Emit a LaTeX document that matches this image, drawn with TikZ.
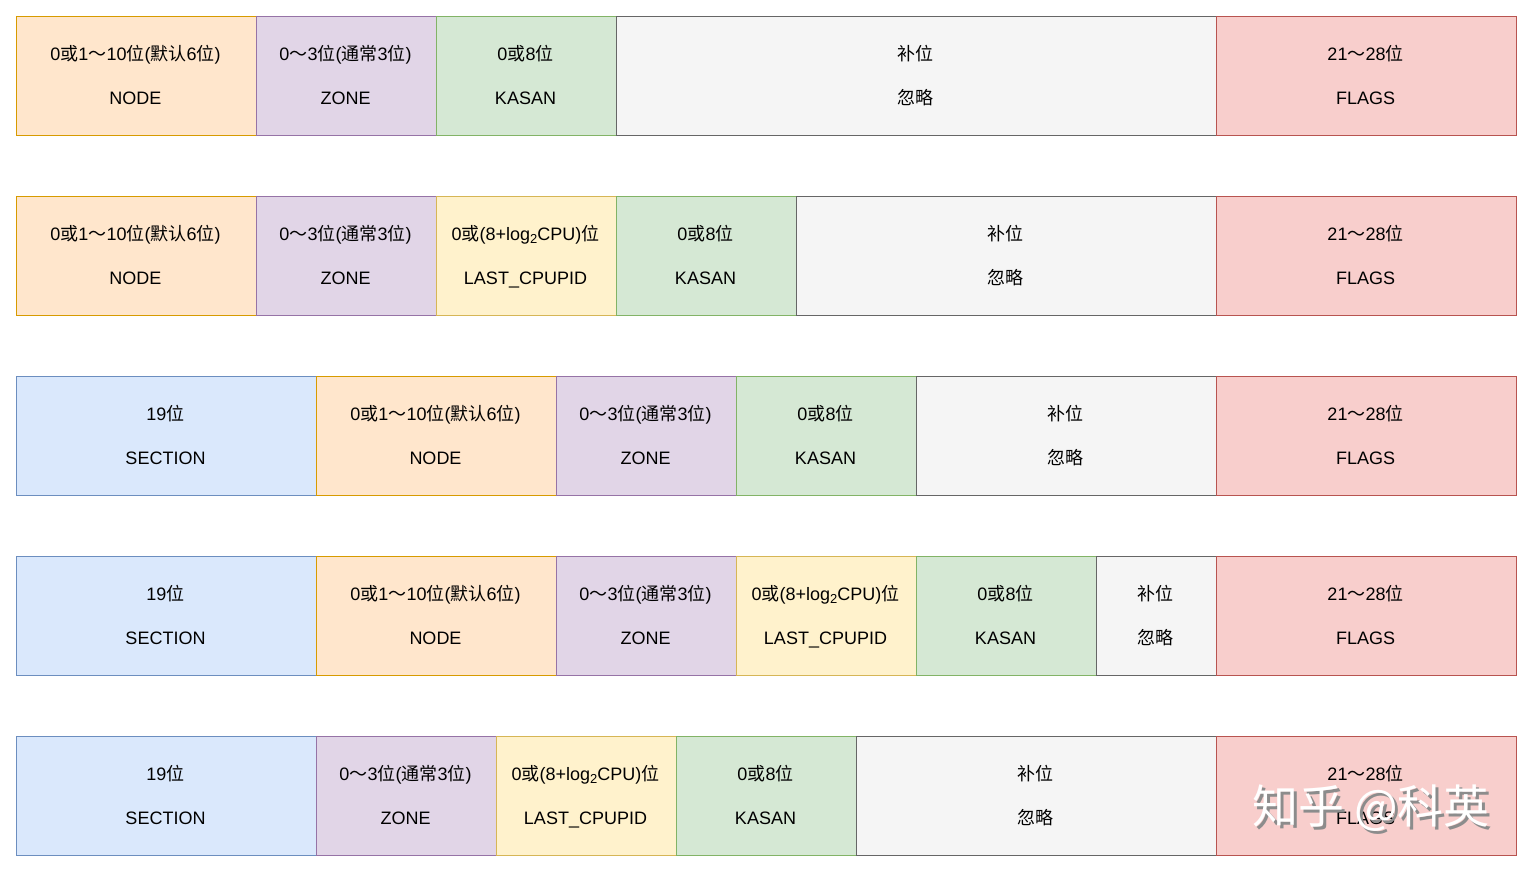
\documentclass[tikz,border=0pt]{standalone}
\usepackage{fontspec}
\setmainfont{Liberation Sans}
\newfontfamily\cjkfam{Noto Sans CJK SC}
\newcommand\cj[1]{{\cjkfam #1}}
\newcommand\subtwo{\raisebox{-0.3ex}{\fontsize{13}{13}\selectfont 2}}
\definecolor{orF}{HTML}{FFE6CC}\definecolor{orD}{HTML}{D79B00}
\definecolor{puF}{HTML}{E1D5E7}\definecolor{puD}{HTML}{9673A6}
\definecolor{grF}{HTML}{D5E8D4}\definecolor{grD}{HTML}{82B366}
\definecolor{gyF}{HTML}{F5F5F5}\definecolor{gyD}{HTML}{666666}
\definecolor{reF}{HTML}{F8CECC}\definecolor{reD}{HTML}{B85450}
\definecolor{blF}{HTML}{DAE8FC}\definecolor{blD}{HTML}{6C8EBF}
\definecolor{yeF}{HTML}{FFF2CC}\definecolor{yeD}{HTML}{D6B656}
\tikzset{
  cellbox/.style={draw, line width=1pt, inner sep=0pt, anchor=north west, minimum height=119pt},
  orc/.style={cellbox, fill=orF, draw=orD},
  puc/.style={cellbox, fill=puF, draw=puD},
  grc/.style={cellbox, fill=grF, draw=grD},
  gyc/.style={cellbox, fill=gyF, draw=gyD},
  rec/.style={cellbox, fill=reF, draw=reD},
  blc/.style={cellbox, fill=blF, draw=blD},
  yec/.style={cellbox, fill=yeF, draw=yeD},
  txt/.style={inner sep=0pt, anchor=base, font=\fontsize{18}{20}\selectfont, text=black},
}
% \cell{name}{x1}{x2}{ytop}{style}{top text}{bottom text}
\newcommand\cell[7]{%
  \pgfmathsetmacro\cw{#3-#2}%
  \node[#5, minimum width=\cw pt] (#1) at (#2-0.5,#4) {};
  \node[txt] (#1t) at ([xshift=-0.5pt,yshift=15.6pt]#1.center) {#6};
  \node[txt] (#1b) at ([xshift=-0.5pt,yshift=-28.4pt]#1.center) {#7};
}
\newcommand\nodetxt{0\cj{或}1\cj{～}10\cj{位}(\cj{默认}6\cj{位})}
\newcommand\zonetxt{0\cj{～}3\cj{位}(\cj{通常}3\cj{位})}
\newcommand\kasantxt{0\cj{或}8\cj{位}}
\newcommand\cputxt{0\cj{或}(8+log\subtwo CPU)\cj{位}}
\newcommand\padtxt{\cj{补位}}
\newcommand\igntxt{\cj{忽略}}
\newcommand\flagtxt{21\cj{～}28\cj{位}}
\newcommand\sectxt{19\cj{位}}
\begin{document}
\begin{tikzpicture}[x=1pt,y=1pt]
\useasboundingbox (0,0) rectangle (1532,872);
% row 1
\cell{a1}{16}{256}{856}{orc}{\nodetxt}{NODE}
\cell{a2}{256}{436}{856}{puc}{\zonetxt}{ZONE}
\cell{a3}{436}{616}{856}{grc}{\kasantxt}{KASAN}
\cell{a4}{616}{1216}{856}{gyc}{\padtxt}{\igntxt}
\cell{a5}{1216}{1516}{856}{rec}{\flagtxt}{FLAGS}
% row 2
\cell{b1}{16}{256}{676}{orc}{\nodetxt}{NODE}
\cell{b2}{256}{436}{676}{puc}{\zonetxt}{ZONE}
\cell{b3}{436}{616}{676}{yec}{\cputxt}{LAST\_CPUPID}
\cell{b4}{616}{796}{676}{grc}{\kasantxt}{KASAN}
\cell{b5}{796}{1216}{676}{gyc}{\padtxt}{\igntxt}
\cell{b6}{1216}{1516}{676}{rec}{\flagtxt}{FLAGS}
% row 3
\cell{c1}{16}{316}{496}{blc}{\sectxt}{SECTION}
\cell{c2}{316}{556}{496}{orc}{\nodetxt}{NODE}
\cell{c3}{556}{736}{496}{puc}{\zonetxt}{ZONE}
\cell{c4}{736}{916}{496}{grc}{\kasantxt}{KASAN}
\cell{c5}{916}{1216}{496}{gyc}{\padtxt}{\igntxt}
\cell{c6}{1216}{1516}{496}{rec}{\flagtxt}{FLAGS}
% row 4
\cell{d1}{16}{316}{316}{blc}{\sectxt}{SECTION}
\cell{d2}{316}{556}{316}{orc}{\nodetxt}{NODE}
\cell{d3}{556}{736}{316}{puc}{\zonetxt}{ZONE}
\cell{d4}{736}{916}{316}{yec}{\cputxt}{LAST\_CPUPID}
\cell{d5}{916}{1096}{316}{grc}{\kasantxt}{KASAN}
\cell{d6}{1096}{1216}{316}{gyc}{\padtxt}{\igntxt}
\cell{d7}{1216}{1516}{316}{rec}{\flagtxt}{FLAGS}
% row 5
\cell{e1}{16}{316}{136}{blc}{\sectxt}{SECTION}
\cell{e2}{316}{496}{136}{puc}{\zonetxt}{ZONE}
\cell{e3}{496}{676}{136}{yec}{\cputxt}{LAST\_CPUPID}
\cell{e4}{676}{856}{136}{grc}{\kasantxt}{KASAN}
\cell{e5}{856}{1216}{136}{gyc}{\padtxt}{\igntxt}
\cell{e6}{1216}{1516}{136}{rec}{\flagtxt}{FLAGS}
% watermark
\node[inner sep=0pt, text=black!45, font=\cjkfam\fontsize{46}{50}\selectfont] (wms) at (1374,61) {知乎 @科英};
\node[inner sep=0pt, text=white, font=\cjkfam\fontsize{46}{50}\selectfont] (wm) at (1371,64) {知乎 @科英};
\end{tikzpicture}
\end{document}
